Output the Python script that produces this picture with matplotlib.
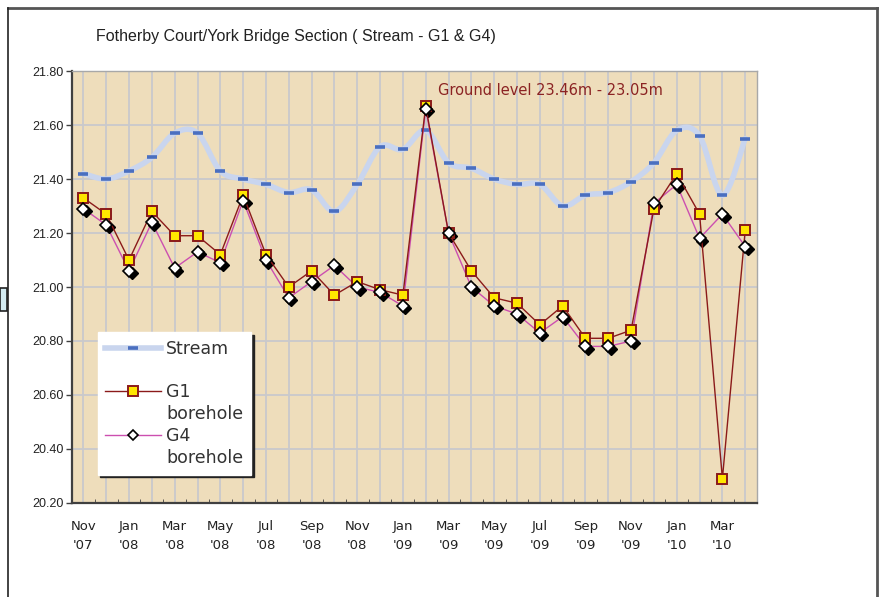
#!/usr/bin/env python3
"""Fotherby Court / York Bridge section: stream level vs G1 & G4 boreholes."""

import matplotlib
matplotlib.use('Agg')
import matplotlib.pyplot as plt
from matplotlib.path import Path
from matplotlib.patches import PathPatch, Rectangle
from matplotlib.lines import Line2D
import matplotlib.transforms as mtransforms
import numpy as np

# --- colours ---
PARCHMENT = '#EEDDBB'
GRID      = '#C9C9CC'
STREAM_LN = '#C9D5EE'
STREAM_MK = '#4A6FC0'
G1_LINE   = '#8B1A1A'
G1_FILL   = '#FFE600'
G4_LINE   = '#CC4FB0'
ANNOT     = '#8B2323'
FRAME     = '#555555'

# --- data (monthly, Nov 2007 - Apr 2010) ---
months = ['Nov', 'Dec', 'Jan', 'Feb', 'Mar', 'Apr', 'May', 'Jun', 'Jul', 'Aug',
          'Sep', 'Oct', 'Nov', 'Dec', 'Jan', 'Feb', 'Mar', 'Apr', 'May', 'Jun',
          'Jul', 'Aug', 'Sep', 'Oct', 'Nov', 'Dec', 'Jan', 'Feb', 'Mar', 'Apr']
years = ["'07", "'07", "'08", "'08", "'08", "'08", "'08", "'08", "'08", "'08",
         "'08", "'08", "'08", "'08", "'09", "'09", "'09", "'09", "'09", "'09",
         "'09", "'09", "'09", "'09", "'09", "'09", "'10", "'10", "'10", "'10"]

stream = [21.42, 21.40, 21.43, 21.48, 21.57, 21.57, 21.43, 21.40, 21.38, 21.35,
          21.36, 21.28, 21.38, 21.52, 21.51, 21.58, 21.46, 21.44, 21.40, 21.38,
          21.38, 21.30, 21.34, 21.35, 21.39, 21.46, 21.58, 21.56, 21.34, 21.55]
g1 = [21.33, 21.27, 21.10, 21.28, 21.19, 21.19, 21.12, 21.34, 21.12, 21.00,
      21.06, 20.97, 21.02, 20.99, 20.97, 21.67, 21.20, 21.06, 20.96, 20.94,
      20.86, 20.93, 20.81, 20.81, 20.84, 21.29, 21.42, 21.27, 20.29, 21.21]
g4 = [21.29, 21.23, 21.06, 21.24, 21.07, 21.13, 21.09, 21.32, 21.10, 20.96,
      21.02, 21.08, 21.00, 20.98, 20.93, 21.66, 21.20, 21.00, 20.93, 20.90,
      20.83, 20.89, 20.78, 20.78, 20.80, 21.31, 21.38, 21.18, 21.27, 21.15]

y_ticks = [20.20, 20.40, 20.60, 20.80, 21.00, 21.20, 21.40, 21.60, 21.80]

TITLE = 'Fotherby Court/York Bridge Section ( Stream - G1 & G4)'
NOTE = 'Ground level 23.46m - 23.05m'


def smooth_path(xs, ys):
    # Excel-style smoothed line: Catmull-Rom segments drawn as cubic Beziers
    pts = np.column_stack([xs, ys])
    n = len(pts)
    verts = [pts[0]]
    codes = [Path.MOVETO]
    for i in range(n - 1):
        p0 = pts[max(i - 1, 0)]
        p1 = pts[i]
        p2 = pts[i + 1]
        p3 = pts[min(i + 2, n - 1)]
        verts += [p1 + (p2 - p0) / 6.0, p2 - (p3 - p1) / 6.0, p2]
        codes += [Path.CURVE4] * 3
    return Path(verts, codes)


def build_figure():
    fig = plt.figure(figsize=(8.8, 5.97), dpi=100)
    fig.patch.set_facecolor('white')
    ax = fig.add_axes([0.0818, 0.1575, 0.778, 0.7235])
    ax.set_facecolor(PARCHMENT)

    x = np.arange(len(months))

    # grid
    for xi in x:
        ax.axvline(xi, color=GRID, lw=1.3, zorder=1)
    for yt in y_ticks[1:-1]:
        ax.axhline(yt, color=GRID, lw=1.3, zorder=1)

    # stream (smoothed)
    ax.add_patch(PathPatch(smooth_path(x, stream), facecolor='none',
                           edgecolor=STREAM_LN, lw=4, zorder=2,
                           capstyle='round'))
    ax.plot(x, stream, ls='none', marker='_', ms=7, mew=2.6,
            color=STREAM_MK, zorder=3)

    # G4 line and diamond shadows
    ax.plot(x, g4, color=G4_LINE, lw=1.0, zorder=4)
    shadow = mtransforms.offset_copy(ax.transData, fig=fig, x=2.5, y=-2.5,
                                     units='dots')
    ax.plot(x, g4, ls='none', marker='D', ms=6.5, mfc='black', mec='black',
            transform=shadow, zorder=5)

    # G1
    ax.plot(x, g1, color=G1_LINE, lw=1.0, marker='s', ms=7.5, mfc=G1_FILL,
            mec=G1_LINE, mew=1.4, zorder=6)
    ax.plot(x, g4, ls='none', marker='D', ms=6, mfc='white', mec='black',
            mew=1.2, zorder=7)

    ax.set_xlim(-0.5, len(months) - 0.5)
    ax.set_ylim(20.20, 21.80)

    ax.set_yticks(y_ticks)
    ax.set_yticklabels([f'{v:.2f}' for v in y_ticks], fontsize=9,
                       family='Liberation Sans', color='#222222')
    ax.tick_params(axis='y', length=4, width=1, color='#404040', pad=2)

    lab_idx = x[::2]
    ax.set_xticks(lab_idx)
    ax.set_xticklabels([f'{months[i]}\n{years[i]}' for i in lab_idx],
                       fontsize=9.5, family='DejaVu Sans', color='#222222',
                       linespacing=1.6)
    ax.tick_params(axis='x', length=0, pad=12)
    ax.set_xticks(x[:-1] + 0.5, minor=True)
    ax.tick_params(axis='x', which='minor', length=3, color='#404040',
                   direction='in')

    for side in ['left', 'bottom']:
        ax.spines[side].set_color('#404040')
        ax.spines[side].set_linewidth(1.6)
    for side in ['top', 'right']:
        ax.spines[side].set_color('#A8A8A8')
        ax.spines[side].set_linewidth(1.0)

    ax.text(0.699, 0.955, NOTE, transform=ax.transAxes, ha='center',
            va='center', fontsize=10.5, color=ANNOT, family='DejaVu Sans',
            zorder=8)

    # legend: handles sit on the first line of each label, as in Excel
    blank = Line2D([], [], color='none')
    handles = [
        Line2D([], [], color=STREAM_LN, lw=4, marker='_', ms=7, mew=2.6,
               mec=STREAM_MK),
        blank,
        Line2D([], [], color=G1_LINE, lw=1.0, marker='s', ms=7.5,
               mfc=G1_FILL, mec=G1_LINE, mew=1.4),
        blank,
        Line2D([], [], color=G4_LINE, lw=1.0, marker='D', ms=5,
               mfc='white', mec='black', mew=1.2),
        blank,
    ]
    labels = ['Stream', ' ', 'G1', 'borehole', 'G4', 'borehole']
    leg = ax.legend(handles, labels, loc='upper left',
                    bbox_to_anchor=(0.0375, 0.396), borderaxespad=0,
                    prop={'family': 'DejaVu Sans', 'size': 12.5},
                    frameon=True, fancybox=False, handlelength=3.2,
                    handletextpad=0.3, labelspacing=0.22, borderpad=0.45,
                    shadow={'color': '#222222', 'alpha': 1.0})
    leg.get_frame().set_edgecolor('white')
    leg.get_frame().set_facecolor('white')
    leg.get_frame().set_alpha(1.0)
    for t in leg.get_texts():
        t.set_color('#333333')
    leg.set_zorder(10)

    # title and chart frame
    fig.text(96 / 880, 1 - 36 / 597, TITLE, ha='left', va='center',
             fontsize=11.5, family='Liberation Sans', color='#222222')
    fig.add_artist(Line2D([7.5 / 880, 877 / 880], [1 - 7.5 / 597, 1 - 7.5 / 597],
                          transform=fig.transFigure, color=FRAME, lw=2))
    fig.add_artist(Line2D([877 / 880, 877 / 880], [0, 1 - 7.5 / 597],
                          transform=fig.transFigure, color=FRAME, lw=2))
    fig.add_artist(Line2D([7.5 / 880, 7.5 / 880], [0, 1 - 7.5 / 597],
                          transform=fig.transFigure, color='#222222', lw=1.2))
    fig.add_artist(Rectangle((0, 1 - 311 / 597), 6.5 / 880, 23 / 597,
                             transform=fig.transFigure, facecolor='#D4ECF2',
                             edgecolor='#222222', lw=1.2))

    fig.savefig('out.png', dpi=100, facecolor='white')
    plt.close(fig)


if __name__ == '__main__':
    build_figure()
